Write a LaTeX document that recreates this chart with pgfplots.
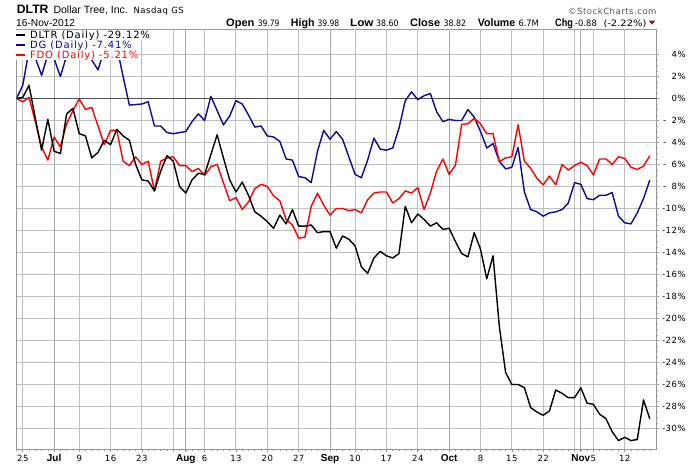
\documentclass[border=0pt]{standalone}
\usepackage{pgfplots}
\usepackage{pgfplotstable}
\pgfplotsset{compat=1.18}
\usepackage{fontspec}
\setmainfont{DejaVu Sans}
\newfontfamily\vfont{DejaVu Sans}[LetterSpace=6]
\newfontfamily\lfont{DejaVu Sans}[LetterSpace=8]
\newfontfamily\dfont{DejaVu Sans}
\newfontfamily\afont{Liberation Sans}
\newcommand{\tkf}{\vfont\fontsize{8.5bp}{10bp}\selectfont}
\newcommand{\numf}{\dfont\fontsize{8.8bp}{10bp}\selectfont}
\newcommand{\mof}{\afont\bfseries\fontsize{10bp}{12bp}\selectfont}
\newcommand{\lgf}{\lfont\fontsize{10bp}{12bp}\selectfont}
\newcommand{\hbf}{\afont\bfseries\fontsize{10.8bp}{12bp}\selectfont}
\newcommand{\fitw}[2]{\resizebox{#1}{\height}{#2}}
\definecolor{gridlight}{RGB}{192,192,192}
\definecolor{gridmonth}{RGB}{168,168,168}
\definecolor{framegray}{RGB}{150,150,150}
\definecolor{zeroline}{RGB}{80,80,80}
\definecolor{dgblue}{RGB}{10,10,150}
\definecolor{fdored}{RGB}{255,0,0}
\definecolor{trired}{RGB}{140,20,50}
\pgfplotstableread{
i dltr dg fdo
0 0 0 0
1 0.1 1.2 -0.3
2 1.2 4.4 0.1
3 -1.8 3.7 -2.1
4 -4.7 2.1 -4.4
5 -1.9 4.0 -5.6
6 -4.8 3.6 -3.5
7 -5.0 2.0 -4.4
8 -1.4 3.9 -2.3
9 -0.9 4.3 -1.1
10 -3.2 4.0 -0.05
11 -3.4 4.4 -1.0
12 -5.4 3.5 -0.8
13 -4.9 2.6 -2.5
14 -3.8 4.4 -4.2
15 -4.2 4.1 -2.9
16 -2.8 4.7 -2.9
17 -3.4 2.0 -5.7
18 -3.8 -0.6 -6.1
19 -6.0 -0.55 -5.3
20 -7.4 -0.5 -6.0
21 -7.5 -0.3 -5.7
22 -8.4 -2.5 -8.4
23 -6.6 -2.5 -5.7
24 -5.2 -3.1 -5.4
25 -5.7 -3.2 -5.3
26 -8.0 -3.1 -6.1
27 -8.6 -3.0 -6.1
28 -7.4 -2.1 -6.65
29 -6.8 -1.4 -6.35
30 -6.9 -2.0 -7.0
31 -5.1 0.2 -6.2
32 -3.3 -1.1 -6.0
33 -5.4 -2.4 -7.65
34 -7.4 -1.6 -9.3
35 -8.5 -0.2 -9.0
36 -7.6 -0.5 -10.1
37 -8.8 -1.5 -9.4
38 -10.3 -2.6 -8.2
39 -10.7 -2.5 -7.8
40 -11.2 -3.4 -8.0
41 -11.8 -3.5 -8.85
42 -10.6 -3.9 -9.3
43 -11.4 -5.5 -11.0
44 -10.1 -5.6 -11.5
45 -11.6 -7.1 -12.7
46 -11.6 -7.2 -12.6
47 -11.5 -7.65 -9.8
48 -12.2 -4.8 -8.6
49 -12.1 -2.9 -9.7
50 -12.1 -3.7 -10.6
51 -13.6 -3.0 -10.0
52 -12.5 -3.7 -10.0
53 -12.8 -5.3 -10.2
54 -13.4 -6.9 -10.1
55 -15.3 -7.2 -10.4
56 -15.9 -5.6 -9.2
57 -14.5 -3.6 -8.6
58 -13.9 -4.6 -8.5
59 -14.3 -4.7 -8.5
60 -14.5 -4.5 -9.5
61 -14.1 -2.7 -9.1
62 -9.8 -0.2 -8.4
63 -11.3 0.6 -8.6
64 -10.5 -0.1 -8.1
65 -11.0 0.25 -10.1
66 -11.6 0.45 -8.6
67 -11.3 -1.2 -6.6
68 -11.9 -2.1 -5.5
69 -11.8 -1.9 -6.9
70 -13.0 -2.0 -6.05
71 -14.1 -2.0 -2.35
72 -14.4 -1.0 -2.3
73 -12.2 -1.7 -1.8
74 -13.7 -3.0 -2.3
75 -16.4 -4.5 -3.2
76 -14.3 -4.1 -3.2
77 -20.7 -5.7 -5.75
78 -24.9 -6.4 -5.4
79 -26.0 -6.25 -5.3
80 -26.0 -4.45 -2.4
81 -26.3 -8.5 -5.7
82 -28.1 -10.1 -6.35
83 -28.5 -10.3 -7.25
84 -28.8 -10.7 -7.85
85 -28.4 -10.4 -7.05
86 -26.5 -10.3 -7.85
87 -26.8 -10.1 -6.0
88 -27.2 -9.5 -6.5
89 -27.2 -7.65 -6.1
90 -26.3 -7.8 -5.8
91 -27.7 -9.1 -6.1
92 -27.8 -9.2 -6.95
93 -28.7 -8.8 -5.5
94 -29.1 -8.8 -5.5
95 -30.3 -8.55 -6.0
96 -31.1 -10.7 -5.3
97 -30.8 -11.3 -5.45
98 -31.1 -11.4 -6.25
99 -31.0 -10.4 -6.45
100 -27.4 -9.1 -6.15
101 -29.12 -7.41 -5.21
}\stocks
\begin{document}
\begin{tikzpicture}[x=1bp,y=1bp]
\useasboundingbox[fill=white] (0,0) rectangle (700,466);
\begin{axis}[
  at={(16.5bp,16.5bp)}, anchor=south west,
  scale only axis, width=640bp, height=420bp,
  xmin=0, xmax=102.07, ymin=-31.90909, ymax=6.27273,
  axis line style={draw=framegray, line width=1bp},
  xtick pos=bottom, ytick pos=right, yticklabel pos=right,
  tick align=outside,
  major tick length=2.5bp, minor tick length=1.5bp,
  tick style={draw=framegray, line width=0.7bp},
  minor tick style={draw=framegray, line width=0.6bp},
  xtick={1,10,15,20,25,30,35,40,45,54,59,64,74,79,84,89,92,97},
  xticklabels={25,9,16,23,,6,13,20,27,10,17,24,8,15,22,,5,12},
  minor xtick={0,...,101},
  ytick={-30,-28,...,4},
  yticklabels={-30\%,-28\%,-26\%,-24\%,-22\%,-20\%,-18\%,-16\%,-14\%,-12\%,-10\%,-\phantom{0}8\%,-\phantom{0}6\%,-\phantom{0}4\%,-\phantom{0}2\%,0\%,2\%,4\%},
  minor y tick num=3,
  xticklabel style={font=\tkf, anchor=base, inner sep=0pt, yshift=-9.8bp},
  yticklabel style={font=\tkf, anchor=east, inner sep=0pt, xshift=26.8bp},
  extra x ticks={6,27,50,69,90},
  extra x tick labels={Jul,Aug,Sep,Oct,Nov},
  extra x tick style={xticklabel style={font=\mof}},
  every axis plot/.append style={line width=1.4bp, line join=round},
]
% light grid lines (weekly and every 2%), placed on whole pixels
\pgfplotsinvokeforeach{0.957,10.048,14.992,19.936,25.040,29.984,34.928,40.032,44.976,54.067,59.011,63.955,74.003,78.947,84.051,88.995,92.026,96.970}{
  \draw[color=gridlight, line width=1.1bp] (axis cs:#1,-31.90909) -- (axis cs:#1,6.27273);
}
\pgfplotsinvokeforeach{-30,-28,-26,-24,-22,-20,-18,-16,-14,-12,-10,-8,-6,-4,-2,2,4}{
  \draw[color=gridlight, line width=1.1bp] (axis cs:0,#1) -- (axis cs:102.07,#1);
}
\pgfplotsinvokeforeach{6.061,26.954,50.080,69.059,89.952}{
  \draw[color=gridmonth, line width=1.1bp] (axis cs:#1,-31.90909) -- (axis cs:#1,6.27273);
}
\draw[color=zeroline, line width=1.1bp] (axis cs:0,0) -- (axis cs:102.07,0);
\addplot[dgblue, no markers] table[x=i, y=dg] {\stocks};
\addplot[fdored, no markers] table[x=i, y=fdo] {\stocks};
\addplot[black, no markers] table[x=i, y=dltr] {\stocks};
\end{axis}
% legend
\node[anchor=west, fill=white, inner xsep=1bp, inner ysep=0pt, minimum height=10.4bp, font=\lgf, text=black] at (15bp,430.7bp)
  {\rule[2.3bp]{9bp}{2.2bp}\hspace{5bp}DLTR (Daily) -29.12\%};
\node[anchor=west, fill=white, inner xsep=1bp, inner ysep=0pt, minimum height=10.4bp, font=\lgf, text=dgblue] at (15bp,420.7bp)
  {\rule[2.3bp]{9bp}{2.2bp}\hspace{5bp}DG (Daily) -7.41\%};
\node[anchor=west, fill=white, inner xsep=1bp, inner ysep=0pt, minimum height=10.4bp, font=\lgf, text=fdored] at (15bp,410.7bp)
  {\rule[2.3bp]{9bp}{2.2bp}\hspace{5bp}FDO (Daily) -5.21\%};
% header
\node[anchor=base west, inner sep=0pt, font=\afont\bfseries\fontsize{12.2bp}{14bp}\selectfont] at (16.7bp,452bp) {DLTR};
\node[anchor=base west, inner sep=0pt, font=\afont\fontsize{10.5bp}{12bp}\selectfont] at (53.3bp,452bp) {Dollar Tree, Inc.};
\node[anchor=base west, inner sep=0pt, font=\tkf] at (133.3bp,452bp) {Nasdaq GS};
\node[anchor=base west, inner sep=0pt, font=\afont\fontsize{10.2bp}{12bp}\selectfont] at (16bp,439.8bp) {16-Nov-2012};
\node[anchor=base east, inner sep=0pt, font=\tkf, text={rgb,255:red,85;green,85;blue,85}] at (656.7bp,451bp) {\textcopyright StockCharts.com};
\node[anchor=base west, inner sep=0pt, font=\hbf] at (226bp,439.8bp) {\fitw{28.3bp}{Open}};
\node[anchor=base west, inner sep=0pt, font=\numf] at (257.7bp,439.8bp) {\fitw{21.6bp}{39.79}};
\node[anchor=base west, inner sep=0pt, font=\hbf] at (290.7bp,439.8bp) {\fitw{23.6bp}{High}};
\node[anchor=base west, inner sep=0pt, font=\numf] at (317.3bp,439.8bp) {\fitw{21.7bp}{39.98}};
\node[anchor=base west, inner sep=0pt, font=\hbf] at (350bp,439.8bp) {\fitw{23.3bp}{Low}};
\node[anchor=base west, inner sep=0pt, font=\numf] at (376bp,439.8bp) {\fitw{22.3bp}{38.60}};
\node[anchor=base west, inner sep=0pt, font=\hbf] at (410bp,439.8bp) {\fitw{30bp}{Close}};
\node[anchor=base west, inner sep=0pt, font=\numf] at (443.3bp,439.8bp) {\fitw{22.5bp}{38.82}};
\node[anchor=base west, inner sep=0pt, font=\hbf] at (477.7bp,439.8bp) {\fitw{37.3bp}{Volume}};
\node[anchor=base west, inner sep=0pt, font=\numf] at (518.3bp,439.8bp) {\fitw{20.4bp}{6.7M}};
\node[anchor=base west, inner sep=0pt, font=\hbf] at (555bp,439.8bp) {\fitw{17.7bp}{Chg}};
\node[anchor=base west, inner sep=0pt, font=\numf] at (575bp,439.8bp) {\fitw{21.7bp}{-0.88}};
\node[anchor=base west, inner sep=0pt, font=\numf] at (603.3bp,439.8bp) {\fitw{43bp}{(-2.22\%)}};
\fill[trired] (648.8bp,445.3bp) -- (655.2bp,445.3bp) -- (652bp,441.3bp) -- cycle;
\end{tikzpicture}
\end{document}
